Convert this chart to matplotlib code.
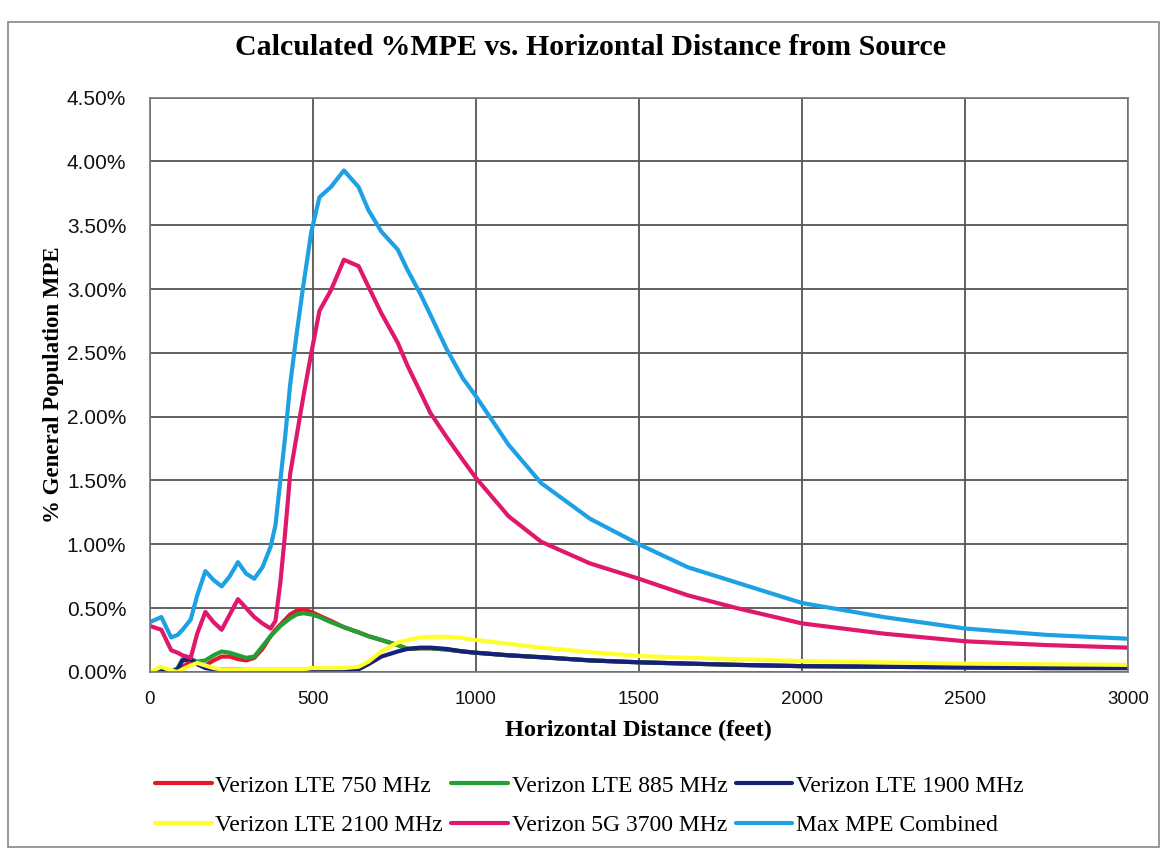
import matplotlib.pyplot as plt
from matplotlib.patches import Rectangle
from matplotlib.ticker import FuncFormatter, MultipleLocator

# distance from source (feet) and %MPE
distance_ft = [0, 35, 65, 85, 100, 125, 145, 170, 195, 220, 245, 270, 295, 320, 345,
               370, 385, 400, 415, 430, 450, 470, 495, 520, 555, 595, 640, 670, 710,
               760, 790, 830, 860, 910, 960, 1000, 1100, 1200, 1350, 1500, 1650, 1800,
               2000, 2250, 2500, 2750, 3000]

lte_750 = [0.0, 0.0, 0.0, 0.01, 0.04, 0.08, 0.06, 0.05, 0.09, 0.12, 0.12, 0.10, 0.09, 0.11,
           0.18, 0.28, 0.33, 0.37, 0.41, 0.45, 0.48, 0.49, 0.47, 0.44, 0.40, 0.35, 0.31,
           0.28, 0.25, 0.21, 0.18, 0.185, 0.185, 0.175, 0.16, 0.15, 0.13, 0.115, 0.09,
           0.075, 0.065, 0.055, 0.045, 0.04, 0.035, 0.03, 0.03]

lte_885 = [0.0, 0.0, 0.0, 0.03, 0.10, 0.10, 0.08, 0.09, 0.13, 0.16, 0.15, 0.13, 0.11, 0.12,
           0.20, 0.28, 0.32, 0.36, 0.39, 0.42, 0.45, 0.46, 0.45, 0.43, 0.39, 0.35, 0.31,
           0.28, 0.25, 0.21, 0.18, 0.185, 0.185, 0.175, 0.16, 0.15, 0.13, 0.115, 0.09,
           0.075, 0.065, 0.055, 0.045, 0.04, 0.035, 0.03, 0.03]

lte_1900 = [0.0, 0.02, 0.0, 0.02, 0.09, 0.10, 0.06, 0.03, 0.02, 0.02, 0.02, 0.02, 0.015,
            0.015, 0.015, 0.015, 0.015, 0.015, 0.015, 0.015, 0.015, 0.015, 0.015, 0.015,
            0.015, 0.015, 0.02, 0.06, 0.12, 0.16, 0.18, 0.19, 0.19, 0.18, 0.16, 0.15, 0.13,
            0.115, 0.09, 0.075, 0.065, 0.055, 0.045, 0.04, 0.035, 0.03, 0.03]

lte_2100 = [0.0, 0.04, 0.01, 0.0, 0.02, 0.05, 0.07, 0.05, 0.03, 0.02, 0.02, 0.02, 0.02,
            0.02, 0.02, 0.02, 0.02, 0.02, 0.02, 0.02, 0.02, 0.02, 0.03, 0.03, 0.03, 0.03,
            0.04, 0.08, 0.16, 0.23, 0.25, 0.27, 0.275, 0.275, 0.265, 0.25, 0.22, 0.19,
            0.155, 0.125, 0.11, 0.10, 0.085, 0.075, 0.065, 0.06, 0.055]

g5_3700 = [0.36, 0.33, 0.17, 0.15, 0.13, 0.11, 0.30, 0.47, 0.39, 0.33, 0.45, 0.57, 0.50,
           0.43, 0.38, 0.34, 0.40, 0.70, 1.10, 1.55, 1.85, 2.15, 2.50, 2.83, 2.99, 3.23,
           3.18, 3.02, 2.81, 2.58, 2.40, 2.19, 2.03, 1.84, 1.66, 1.52, 1.22, 1.02, 0.85,
           0.73, 0.60, 0.50, 0.38, 0.30, 0.24, 0.21, 0.19]

max_combined = [0.39, 0.43, 0.27, 0.29, 0.33, 0.41, 0.60, 0.79, 0.72, 0.67, 0.75, 0.86,
                0.77, 0.73, 0.82, 0.98, 1.15, 1.50, 1.85, 2.25, 2.65, 3.02, 3.45, 3.72,
                3.80, 3.93, 3.80, 3.62, 3.45, 3.31, 3.15, 2.96, 2.80, 2.53, 2.30, 2.16,
                1.78, 1.48, 1.20, 1.00, 0.82, 0.70, 0.54, 0.43, 0.34, 0.29, 0.26]

series = [
    ("Verizon LTE 750 MHz", lte_750, "#e3182d"),
    ("Verizon LTE 885 MHz", lte_885, "#22a035"),
    ("Verizon LTE 1900 MHz", lte_1900, "#15207a"),
    ("Verizon LTE 2100 MHz", lte_2100, "#ffff30"),
    ("Verizon 5G 3700 MHz", g5_3700, "#e0186c"),
    ("Max MPE Combined", max_combined, "#1da1e4"),
]

serif = ["Liberation Serif", "DejaVu Serif"]
sans = ["Liberation Sans", "DejaVu Sans"]

fig = plt.figure(figsize=(11.67, 8.57), dpi=100)
fig.patches.append(Rectangle((0.007, 0.012), 0.986, 0.962, transform=fig.transFigure,
                             fill=False, edgecolor="#888888", linewidth=1.2))

ax = fig.add_axes([0.1285, 0.216, 0.838, 0.670])
lines = {}
for name, vals, col in series:
    ln, = ax.plot(distance_ft, vals, color=col, linewidth=3, label=name,
                  solid_joinstyle="round", solid_capstyle="round")
    lines[name] = ln

ax.set_xlim(0, 3000)
ax.set_ylim(0, 4.5)
ax.xaxis.set_major_locator(MultipleLocator(500))
ax.yaxis.set_major_locator(MultipleLocator(0.5))
ax.yaxis.set_major_formatter(FuncFormatter(lambda v, p: f"{v:.2f}%"))
ax.grid(True, color="#555555", linewidth=1.3)
ax.set_axisbelow(True)
for s in ax.spines.values():
    s.set_color("#777777")
    s.set_linewidth(1.2)
ax.tick_params(length=0, colors="#111111")
ax.tick_params(axis="y", pad=17, labelsize=15)
ax.tick_params(axis="x", pad=14, labelsize=13.5)
for lab in ax.get_xticklabels() + ax.get_yticklabels():
    lab.set_family(sans)

fig.text(0.506, 0.945, "Calculated %MPE vs. Horizontal Distance from Source",
         ha="center", va="center", fontsize=21.5, fontweight="bold", family=serif)
ax.set_xlabel("Horizontal Distance (feet)", fontsize=17.5, fontweight="bold",
              family=serif, labelpad=8)
ax.set_ylabel("% General Population MPE", fontsize=16.5, fontweight="bold",
              family=serif, labelpad=2)

order = ["Verizon LTE 750 MHz", "Verizon LTE 2100 MHz", "Verizon LTE 885 MHz",
         "Verizon 5G 3700 MHz", "Verizon LTE 1900 MHz", "Max MPE Combined"]
fig.legend([lines[n] for n in order], order, loc="center", ncol=3,
           bbox_to_anchor=(0.505, 0.06), frameon=False, handlelength=2.4,
           handletextpad=0.15, columnspacing=0.35, labelspacing=0.75,
           prop={"family": serif, "size": 17})

fig.savefig("out.png", dpi=100)
